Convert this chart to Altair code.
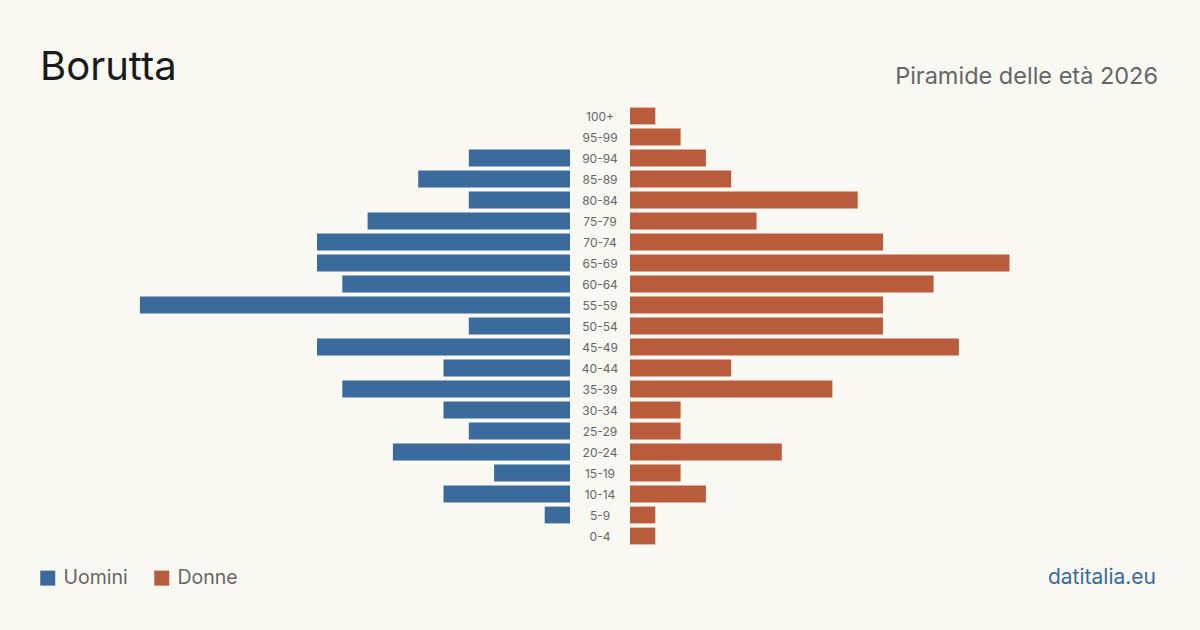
import altair as alt
import pandas as pd

ages = ["100+", "95-99", "90-94", "85-89", "80-84", "75-79", "70-74", "65-69",
        "60-64", "55-59", "50-54", "45-49", "40-44", "35-39", "30-34", "25-29",
        "20-24", "15-19", "10-14", "5-9", "0-4"]
uomini = [0, 0, 4, 6, 4, 8, 10, 10, 9, 17, 4, 10, 5, 9, 5, 4, 7, 3, 5, 1, 0]
donne = [1, 2, 3, 4, 9, 5, 10, 15, 12, 10, 10, 13, 4, 8, 2, 2, 6, 2, 3, 1, 1]

BG = "#f9f8f3"
BLUE = "#3a6b9c"
RED = "#b95c3c"
FONT = "Inter"

n = len(ages)
pos = [n - 1 - i for i in range(n)]  # 0-4 at bottom
rows = []
for a, p, u, d in zip(ages, pos, uomini, donne):
    rows.append({"age": a, "pos": p, "sex": "Uomini", "v": u, "x0": 0, "y0": p - 0.4, "y1": p + 0.4})
    rows.append({"age": a, "pos": p, "sex": "Donne", "v": d, "x0": 0, "y0": p - 0.4, "y1": p + 0.4})
df = pd.DataFrame(rows)
df = df[df["v"] > 0]
labels = pd.DataFrame({"age": ages, "pos": pos})

XMAX = 22.53
ydom = [-4.476, 25.524]
yscale = alt.Scale(domain=ydom, nice=False, zero=False)
color = alt.Color("sex:N", scale=alt.Scale(domain=["Uomini", "Donne"], range=[BLUE, RED]),
                  legend=alt.Legend(title=None))

H = 630

left_bars = alt.Chart(df).transform_filter(alt.datum.sex == "Uomini").mark_rect().encode(
    x=alt.X("v:Q", scale=alt.Scale(domain=[0, XMAX], reverse=True, nice=False, zero=True), axis=None),
    x2="x0:Q",
    y=alt.Y("y0:Q", scale=yscale, axis=None),
    y2="y1:Q",
    color=color,
)
title_txt = alt.Chart(pd.DataFrame({"t": ["Borutta"]})).mark_text(
    align="left", baseline="alphabetic", fontSize=40, font=FONT, color="#1a1a1a"
).encode(x=alt.value(40), y=alt.value(80), text="t:N")
left = alt.layer(left_bars, title_txt).properties(width=570, height=H)

mid = alt.Chart(labels).mark_text(
    align="center", baseline="middle", fontSize=12, font=FONT, color="#666666", dy=1
).encode(
    x=alt.value(30),
    y=alt.Y("pos:Q", scale=yscale, axis=None),
    text="age:N",
).properties(width=60, height=H)

right_bars = alt.Chart(df).transform_filter(alt.datum.sex == "Donne").mark_rect().encode(
    x=alt.X("v:Q", scale=alt.Scale(domain=[0, XMAX], nice=False, zero=True), axis=None),
    x2="x0:Q",
    y=alt.Y("y0:Q", scale=yscale, axis=None),
    y2="y1:Q",
    color=color,
)
sub_txt = alt.Chart(pd.DataFrame({"t": ["Piramide delle età 2026"]})).mark_text(
    align="right", baseline="alphabetic", fontSize=23.5, font=FONT, color="#666666"
).encode(x=alt.value(528), y=alt.value(84), text="t:N")
src_txt = alt.Chart(pd.DataFrame({"t": ["datitalia.eu"]})).mark_text(
    align="right", baseline="alphabetic", fontSize=21, font=FONT, color=BLUE
).encode(x=alt.value(526), y=alt.value(584), text="t:N")
right = alt.layer(right_bars, sub_txt, src_txt).properties(width=570, height=H)

chart = alt.hconcat(left, mid, right, spacing=0).properties(
    background=BG, padding=0
).configure_view(stroke=None).configure_legend(
    orient="none", legendX=38, legendY=568, direction="horizontal",
    symbolType="square", symbolSize=225, symbolStrokeWidth=0, symbolOpacity=1,
    labelFontSize=19.5, labelFont=FONT, labelColor="#666666", labelOffset=6,
    columnPadding=24, padding=0, titlePadding=0,
)

chart.save("out.html", embed_options={"renderer": "svg", "actions": False})
